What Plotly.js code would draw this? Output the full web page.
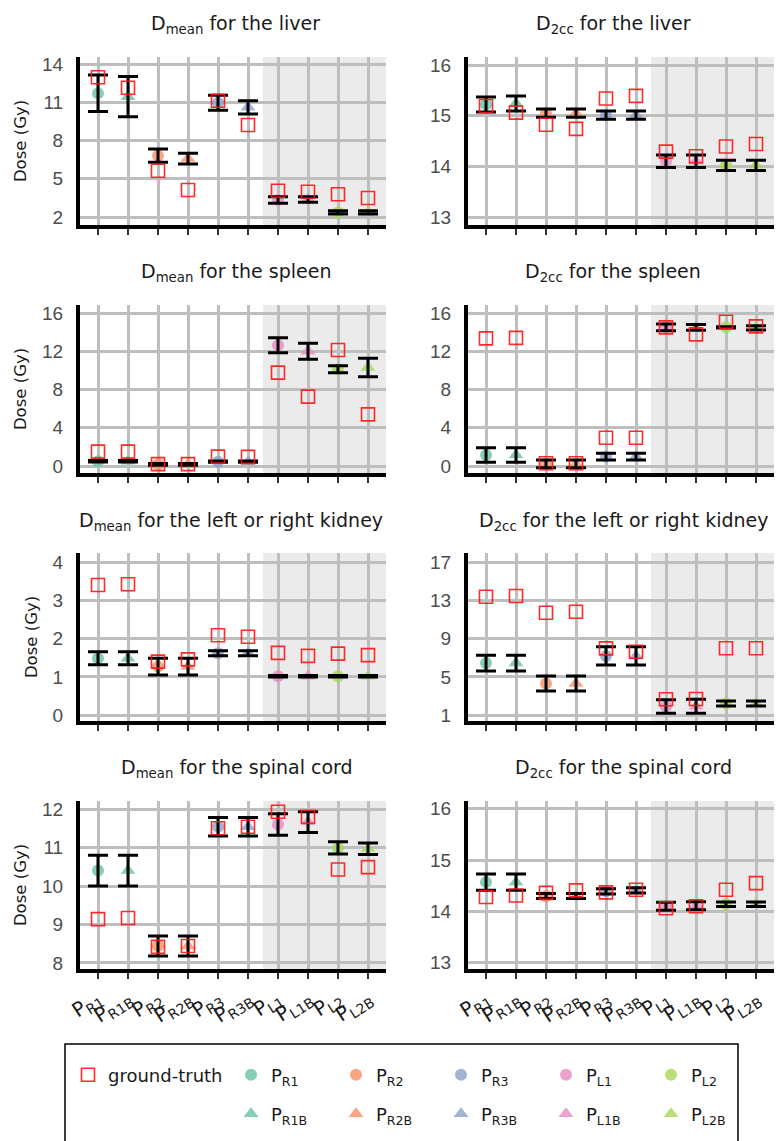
<!DOCTYPE html>
<html><head><meta charset="utf-8">
<script src="https://cdn.plot.ly/plotly-3.0.1.min.js"></script>
<style>html,body{margin:0;padding:0;background:#fff;}#chart{width:783px;height:1141px;}</style>
</head><body><div id="chart"></div>
<script>
// ---- data ----
const methods = ['PR1','PR1B','PR2','PR2B','PR3','PR3B','PL1','PL1B','PL2','PL2B'];
const methodLabels = ['P<sub>R1</sub>','P<sub>R1B</sub>','P<sub>R2</sub>','P<sub>R2B</sub>','P<sub>R3</sub>','P<sub>R3B</sub>','P<sub>L1</sub>','P<sub>L1B</sub>','P<sub>L2</sub>','P<sub>L2B</sub>'];
const gtName = 'ground-truth';

const liverMeanMu = [11.7, 11.44, 6.81, 6.58, 10.96, 10.6, 3.33, 3.37, 2.36, 2.36];
const liverMeanSd = [1.43, 1.57, 0.52, 0.42, 0.59, 0.52, 0.26, 0.22, 0.13, 0.13];
const liverMeanGt = [12.96, 12.14, 5.63, 4.12, 11.12, 9.22, 4.06, 3.98, 3.78, 3.49];

const liver2ccMu = [15.22, 15.24, 15.05, 15.05, 15.01, 15.01, 14.1, 14.1, 14.02, 14.02];
const liver2ccSd = [0.15, 0.15, 0.08, 0.08, 0.08, 0.08, 0.125, 0.125, 0.1, 0.1];
const liver2ccGt = [15.19, 15.06, 14.82, 14.74, 15.34, 15.39, 14.29, 14.2, 14.39, 14.44];

const spleenMeanMu = [0.5, 0.5, 0.17, 0.17, 0.45, 0.45, 12.63, 12.0, 10.12, 10.3];
const spleenMeanSd = [0.08, 0.08, 0.08, 0.08, 0.06, 0.06, 0.78, 0.84, 0.37, 0.96];
const spleenMeanGt = [1.5, 1.5, 0.2, 0.2, 0.98, 0.95, 9.76, 7.25, 12.13, 5.4];

const spleen2ccMu = [1.15, 1.15, 0.22, 0.22, 0.98, 0.98, 14.5, 14.5, 14.5, 14.45];
const spleen2ccSd = [0.77, 0.77, 0.4, 0.4, 0.35, 0.35, 0.35, 0.3, 0.06, 0.23];
const spleen2ccGt = [13.35, 13.4, 0.28, 0.28, 2.96, 2.96, 14.5, 13.77, 15.09, 14.6];

const kidneyMeanMu = [1.49, 1.49, 1.27, 1.27, 1.62, 1.62, 1.02, 1.02, 1.02, 1.02];
const kidneyMeanSd = [0.17, 0.17, 0.22, 0.22, 0.065, 0.065, 0.02, 0.02, 0.02, 0.02];
const kidneyMeanGt = [3.4, 3.42, 1.4, 1.46, 2.09, 2.05, 1.63, 1.55, 1.61, 1.57];

const kidney2ccMu = [6.45, 6.45, 4.32, 4.32, 7.2, 7.2, 1.92, 1.94, 2.23, 2.23];
const kidney2ccSd = [0.83, 0.83, 0.78, 0.78, 0.95, 0.95, 0.71, 0.73, 0.26, 0.26];
const kidney2ccGt = [13.38, 13.45, 11.71, 11.8, 7.99, 7.64, 2.67, 2.7, 8.0, 8.0];

const spinalMeanMu = [10.4, 10.4, 8.44, 8.44, 11.54, 11.54, 11.6, 11.66, 10.99, 10.97];
const spinalMeanSd = [0.4, 0.4, 0.26, 0.26, 0.24, 0.24, 0.28, 0.27, 0.16, 0.15];
const spinalMeanGt = [9.14, 9.17, 8.42, 8.44, 11.5, 11.54, 11.93, 11.8, 10.43, 10.49];

const spinal2ccMu = [14.57, 14.57, 14.3, 14.3, 14.39, 14.41, 14.1, 14.11, 14.14, 14.14];
const spinal2ccSd = [0.16, 0.16, 0.05, 0.05, 0.05, 0.05, 0.08, 0.08, 0.045, 0.045];
const spinal2ccGt = [14.28, 14.31, 14.36, 14.41, 14.37, 14.42, 14.06, 14.1, 14.42, 14.55];

const ticksLiverMean = [2, 5, 8, 11, 14];
const ticksLiver2cc = [13, 14, 15, 16];
const ticksSpleen = [0, 4, 8, 12, 16];
const ticksKidneyMean = [0, 1, 2, 3, 4];
const ticksKidney2cc = [1, 5, 9, 13, 17];
const ticksSpinalMean = [8, 9, 10, 11, 12];
const ticksSpinal2cc = [13, 14, 15, 16];

const titles = [
  'D<sub>mean</sub> for the liver', 'D<sub>2cc</sub> for the liver',
  'D<sub>mean</sub> for the spleen', 'D<sub>2cc</sub> for the spleen',
  'D<sub>mean</sub> for the left or right kidney', 'D<sub>2cc</sub> for the left or right kidney',
  'D<sub>mean</sub> for the spinal cord', 'D<sub>2cc</sub> for the spinal cord'
];
const yTitle = 'Dose (Gy)';

// ---- styling / layout ----
const W = 783, H = 1141;
const colors = ['#66c2a5','#66c2a5','#fc8d62','#fc8d62','#8da0cb','#8da0cb','#e78ac3','#e78ac3','#a6d854','#a6d854'];
const panels = [
  {mu: liverMeanMu, sd: liverMeanSd, gt: liverMeanGt, ticks: ticksLiverMean, range: [1.373, 14.549], tx: 235},
  {mu: liver2ccMu, sd: liver2ccSd, gt: liver2ccGt, ticks: ticksLiver2cc, range: [12.842, 16.158], tx: 613},
  {mu: spleenMeanMu, sd: spleenMeanSd, gt: spleenMeanGt, ticks: ticksSpleen, range: [-0.732, 16.837], tx: 236},
  {mu: spleen2ccMu, sd: spleen2ccSd, gt: spleen2ccGt, ticks: ticksSpleen, range: [-0.732, 16.837], tx: 613},
  {mu: kidneyMeanMu, sd: kidneyMeanSd, gt: kidneyMeanGt, ticks: ticksKidneyMean, range: [-0.149, 4.235], tx: 231},
  {mu: kidney2ccMu, sd: kidney2ccSd, gt: kidney2ccGt, ticks: ticksKidney2cc, range: [0.405, 17.939], tx: 623},
  {mu: spinalMeanMu, sd: spinalMeanSd, gt: spinalMeanGt, ticks: ticksSpinalMean, range: [7.844, 12.208], tx: 237},
  {mu: spinal2ccMu, sd: spinal2ccSd, gt: spinal2ccGt, ticks: ticksSpinal2cc, range: [12.877, 16.151], tx: 623}
];

const traces = [];
const layout = {
  width: W, height: H, margin: {l: 0, r: 0, t: 0, b: 0},
  paper_bgcolor: '#fff', plot_bgcolor: '#fff', showlegend: true,
  font: {family: 'DejaVu Sans', color: '#1a1a1a'},
  shapes: [], annotations: []
};

panels.forEach((p, i) => {
  const n = i + 1;
  const col = i % 2, row = Math.floor(i / 2);
  const xs = n === 1 ? 'x' : 'x' + n, ys = n === 1 ? 'y' : 'y' + n;
  const xk = n === 1 ? 'xaxis' : 'xaxis' + n, yk = n === 1 ? 'yaxis' : 'yaxis' + n;
  const left = col === 0 ? 80 : 468, right = left + 306;
  const top = 57 + 248 * row, bottom = 225 + 248 * row;
  layout[xk] = {
    domain: [left / W, right / W], anchor: ys, range: [-0.6, 9.6],
    type: 'category', categoryorder: 'array', categoryarray: methods,
    tickmode: 'array', tickvals: methods, ticktext: methodLabels,
    showticklabels: row === 3, tickangle: -33,
    tickfont: {family: 'DejaVu Sans', size: 20, color: '#1a1a1a'},
    ticks: 'outside', ticklen: 6, tickwidth: 2, tickcolor: '#333',
    showgrid: true, gridcolor: '#bebebe', gridwidth: 3,
    showline: true, linecolor: '#000', linewidth: 4, zeroline: false, fixedrange: true
  };
  layout[yk] = {
    domain: [1 - bottom / H, 1 - top / H], anchor: xs, range: p.range,
    tickmode: 'array', tickvals: p.ticks, ticks: '',
    tickfont: {family: 'Liberation Sans', size: 19, color: '#4d4d4d'},
    ticklabelstandoff: 9,
    showgrid: true, gridcolor: '#bebebe', gridwidth: 3,
    showline: true, linecolor: '#000', linewidth: 4, zeroline: false, fixedrange: true
  };
  if (col === 0) {
    layout[yk].title = {text: yTitle, font: {family: 'DejaVu Sans', size: 16.5, color: '#1a1a1a'}, standoff: 12};
  }
  layout.shapes.push({type: 'rect', xref: xs, yref: ys + ' domain', x0: 5.5, x1: 9.6, y0: 0, y1: 1,
    fillcolor: '#ebebeb', line: {width: 0}, layer: 'below'});
  layout.annotations.push({text: titles[i], xref: 'paper', yref: 'paper', x: p.tx / W, y: 1 - (25 + 248 * row) / H,
    xanchor: 'center', yanchor: 'middle', showarrow: false, font: {family: 'DejaVu Sans', size: 19, color: '#1a1a1a'}});

  methods.forEach((m, j) => {
    traces.push({
      type: 'scatter', mode: 'markers', xaxis: xs, yaxis: ys,
      x: [m], y: [p.mu[j]], name: methodLabels[j],
      legend: j % 2 === 0 ? 'legend2' : 'legend3',
      showlegend: i === 0,
      marker: {color: colors[j], opacity: 0.8, size: j % 2 === 0 ? 12 : 13,
               symbol: j % 2 === 0 ? 'circle' : 'triangle-up', line: {width: 0}},
      hoverinfo: 'skip'
    });
  });
  traces.push({
    type: 'scatter', mode: 'markers', xaxis: xs, yaxis: ys, x: methods, y: p.mu,
    marker: {color: 'rgba(0,0,0,0)', size: 2},
    error_y: {type: 'data', array: p.sd, visible: true, color: '#000', thickness: 3, width: 10},
    showlegend: false, hoverinfo: 'skip'
  });
  traces.push({
    type: 'scatter', mode: 'markers', xaxis: xs, yaxis: ys, x: methods, y: p.gt,
    name: gtName, legend: 'legend', showlegend: i === 0,
    marker: {symbol: 'square-open', size: 13, color: 'rgba(255,20,20,0.9)', line: {width: 1.6}},
    hoverinfo: 'skip'
  });
});

// legend frame
layout.shapes.push({type: 'rect', xref: 'paper', yref: 'paper', x0: 65 / W, x1: 738 / W, y0: -0.05, y1: 1 - 1044 / H,
  line: {color: '#000', width: 1.5}, fillcolor: 'rgba(0,0,0,0)'});

const legendFont = {family: 'DejaVu Sans', size: 18, color: '#1a1a1a'};
layout.legend = {x: 68 / W, y: 1 - 1075 / H, xanchor: 'left', yanchor: 'middle', orientation: 'h',
  bgcolor: 'rgba(0,0,0,0)', borderwidth: 0, font: legendFont};
layout.legend2 = {x: 231 / W, y: 1 - 1075 / H, xanchor: 'left', yanchor: 'middle', orientation: 'h',
  bgcolor: 'rgba(0,0,0,0)', borderwidth: 0, font: legendFont, entrywidth: 60, entrywidthmode: 'pixels'};
layout.legend3 = {x: 231 / W, y: 1 - 1114 / H, xanchor: 'left', yanchor: 'middle', orientation: 'h',
  bgcolor: 'rgba(0,0,0,0)', borderwidth: 0, font: legendFont, entrywidth: 60, entrywidthmode: 'pixels'};

Plotly.newPlot('chart', traces, layout, {displayModeBar: false, staticPlot: true});
</script></body></html>
